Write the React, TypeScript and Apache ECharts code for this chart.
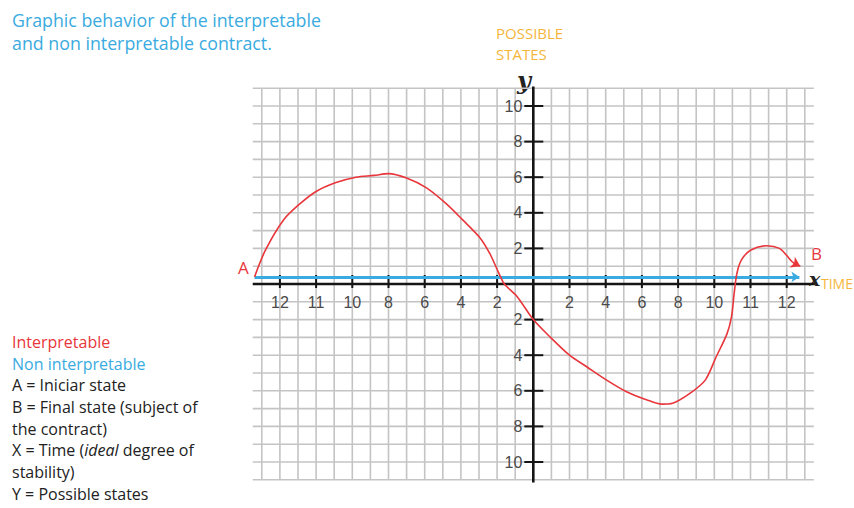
import React, { useEffect, useRef } from "react";
import * as echarts from "echarts";

// Tick positions (in grid cells) and the hand-written labels shown at them
const xTickValues = [-14, -12, -10, -8, -6, -4, -2, 2, 4, 6, 8, 10, 12, 14];
const xTickLabels = ["12", "11", "10", "8", "6", "4", "2", "2", "4", "6", "8", "10", "11", "12"];
const yTickValues = [10, 8, 6, 4, 2, -2, -4, -6, -8, -10];
const yTickLabels = ["10", "8", "6", "4", "2", "2", "4", "6", "8", "10"];

// Interpretable contract: path from A to B
const interpretable: [number, number][] = [
  [-15.4, 0.4], [-14.8, 1.9], [-13.8, 3.6], [-12.9, 4.5], [-12.0, 5.2],
  [-10.9, 5.7], [-9.8, 6.0], [-8.8, 6.1], [-8.0, 6.2], [-7.0, 5.95],
  [-5.9, 5.4], [-4.8, 4.5], [-3.9, 3.6], [-2.95, 2.6], [-2.4, 1.7],
  [-1.9, 0.6], [-1.6, 0.0], [-0.9, -0.7], [0.0, -2.0], [0.9, -2.95],
  [2.0, -4.0], [2.95, -4.65], [4.05, -5.4], [5.15, -6.05], [6.25, -6.5],
  [7.1, -6.75], [7.7, -6.7], [8.65, -6.15], [9.5, -5.4], [10.1, -4.1],
  [10.7, -2.8], [10.95, -1.85], [11.1, -0.5], [11.25, 0.6], [11.5, 1.35],
  [12.0, 1.9], [12.9, 2.15], [13.6, 2.0], [14.0, 1.6], [14.3, 1.25], [14.55, 1.08],
];
const interpretableArrow: [number, number][] = [[14.35, 1.2], [14.75, 1.0]];

// Non interpretable contract: flat line just above the time axis
const nonInterpretable: [number, number][] = [[-15.4, 0.4], [14.7, 0.4]];

// Graph paper extents (cells)
const gridColMin = -15;
const gridColMax = 15;
const gridRowMin = -11;
const gridRowMax = 11;
const gridOverhang = 0.5;

const xAxisLine: [number, number][] = [[-15.5, 0], [15.55, 0]];
const yAxisLine: [number, number][] = [[0, 11.1], [0, -11.15]];

const RED = "#e8363b";
const BLUE = "#3aabe0";
const ORANGE = "#f4b63a";
const HAND = "'Liberation Sans', 'DejaVu Sans', sans-serif";
const SANS = "'Open Sans', 'Noto Sans', sans-serif";

export default function App() {
  const ref = useRef<HTMLDivElement>(null);

  useEffect(() => {
    if (!ref.current) return;
    const chart = echarts.init(ref.current, undefined, { renderer: "svg" });

    const gridLines: [number, number][] = [];
    for (let c = gridColMin; c <= gridColMax; c++) gridLines.push([0, c]);
    for (let r = gridRowMin; r <= gridRowMax; r++) gridLines.push([1, r]);

    const ticks: [number, number][] = [];
    xTickValues.forEach((v) => ticks.push([0, v]));
    yTickValues.forEach((v) => ticks.push([1, v]));

    const tickLabels: [number, number, string][] = [];
    xTickValues.forEach((v, i) => tickLabels.push([0, v, xTickLabels[i]]));
    yTickValues.forEach((v, i) => tickLabels.push([1, v, yTickLabels[i]]));

    const option: any = {
      animation: false,
      backgroundColor: "#ffffff",
      grid: { left: 243.7, top: 70.4, width: 579.2, height: 427.2 },
      xAxis: { type: "value", min: -16, max: 16, show: false },
      yAxis: { type: "value", min: -12, max: 12, show: false },
      series: [
        {
          type: "custom",
          silent: true,
          z: 1,
          data: gridLines,
          renderItem: (params: any, api: any) => {
            const o = api.value(0);
            const v = api.value(1);
            const p1 = o === 0 ? api.coord([v, gridRowMin]) : api.coord([gridColMin - gridOverhang, v]);
            const p2 = o === 0 ? api.coord([v, gridRowMax]) : api.coord([gridColMax + gridOverhang, v]);
            return {
              type: "line",
              shape: { x1: p1[0], y1: p1[1], x2: p2[0], y2: p2[1] },
              style: { stroke: "#c4c4c4", lineWidth: 1.6 },
            };
          },
        },
        {
          type: "line",
          silent: true,
          z: 3,
          data: xAxisLine,
          showSymbol: false,
          lineStyle: { color: "#151515", width: 2.6 },
        },
        {
          type: "line",
          silent: true,
          z: 3,
          data: yAxisLine,
          showSymbol: false,
          lineStyle: { color: "#151515", width: 2.6 },
        },
        {
          type: "custom",
          silent: true,
          z: 4,
          data: ticks,
          renderItem: (params: any, api: any) => {
            const o = api.value(0);
            const v = api.value(1);
            const p = o === 0 ? api.coord([v, 0]) : api.coord([0, v]);
            const shape =
              o === 0
                ? { x1: p[0], y1: p[1] - 9, x2: p[0], y2: p[1] + 4 }
                : { x1: p[0] - 9, y1: p[1], x2: p[0] + 10, y2: p[1] };
            return { type: "line", shape, style: { stroke: "#151515", lineWidth: 2 } };
          },
        },
        {
          type: "custom",
          silent: true,
          z: 4,
          data: tickLabels,
          renderItem: (params: any, api: any) => {
            const item = tickLabels[params.dataIndex];
            const o = item[0];
            const v = item[1];
            const p = o === 0 ? api.coord([v, 0]) : api.coord([0, v]);
            return {
              type: "text",
              style: {
                text: item[2],
                x: o === 0 ? p[0] : p[0] - 11,
                y: o === 0 ? p[1] + 18 : p[1],
                align: o === 0 ? "center" : "right",
                verticalAlign: "middle",
                fill: "#4a4a4a",
                font: `16px ${HAND}`,
              },
            };
          },
        },
        {
          type: "lines",
          coordinateSystem: "cartesian2d",
          silent: true,
          z: 5,
          symbol: ["none", "arrow"],
          symbolSize: 8,
          lineStyle: { color: BLUE, width: 3, opacity: 1 },
          data: [{ coords: nonInterpretable }],
        },
        {
          type: "line",
          silent: true,
          z: 6,
          data: interpretable,
          smooth: 0.3,
          showSymbol: false,
          lineStyle: { color: RED, width: 1.6 },
        },
        {
          type: "lines",
          coordinateSystem: "cartesian2d",
          silent: true,
          z: 6,
          symbol: ["none", "arrow"],
          symbolSize: 9,
          lineStyle: { color: RED, width: 1.6, opacity: 1 },
          data: [{ coords: interpretableArrow }],
        },
      ],
      graphic: [
        {
          type: "text",
          left: 12,
          top: 8,
          style: {
            text: "Graphic behavior of the interpretable\nand non interpretable contract.",
            font: `17.8px ${SANS}`,
            fill: BLUE,
            lineHeight: 23,
          },
        },
        {
          type: "text",
          left: 496,
          top: 22,
          style: { text: "POSSIBLE\nSTATES", font: `15px ${SANS}`, fill: ORANGE, lineHeight: 21 },
        },
        {
          type: "text",
          left: 821,
          top: 276,
          style: { text: "TIME", font: `14px ${SANS}`, fill: ORANGE },
        },
        {
          type: "text",
          left: 238,
          top: 259,
          style: { text: "A", font: `17px ${SANS}`, fill: RED },
        },
        {
          type: "text",
          left: 811,
          top: 245,
          style: { text: "B", font: `17px ${SANS}`, fill: RED },
        },
        {
          type: "text",
          left: 517,
          top: 68,
          style: { text: "y", font: `italic bold 24px 'DejaVu Serif', serif`, fill: "#222222" },
        },
        {
          type: "text",
          left: 809,
          top: 269,
          style: { text: "x", font: `italic bold 19px 'DejaVu Serif', serif`, fill: "#222222" },
        },
        {
          type: "text",
          left: 12,
          top: 334,
          style: {
            text: [
              "{r|Interpretable}",
              "{b|Non interpretable}",
              "{k|A = Iniciar state}",
              "{k|B = Final state (subject of}",
              "{k|the contract)}",
              "{k|X = Time (}{i|ideal}{k| degree of}",
              "{k|stability)}",
              "{k|Y = Possible states}",
            ].join("\n"),
            rich: {
              r: { font: `16px ${SANS}`, fill: RED, lineHeight: 21.7 },
              b: { font: `16px ${SANS}`, fill: BLUE, lineHeight: 21.7 },
              k: { font: `16px ${SANS}`, fill: "#222222", lineHeight: 21.7 },
              i: { font: `italic 16px ${SANS}`, fill: "#222222", lineHeight: 21.7 },
            },
          },
        },
      ],
    };

    chart.setOption(option);
    return () => chart.dispose();
  }, []);

  return (
    <div
      ref={ref}
      style={{ position: "absolute", left: 0, top: 0, width: 854, height: 508 }}
    />
  );
}
